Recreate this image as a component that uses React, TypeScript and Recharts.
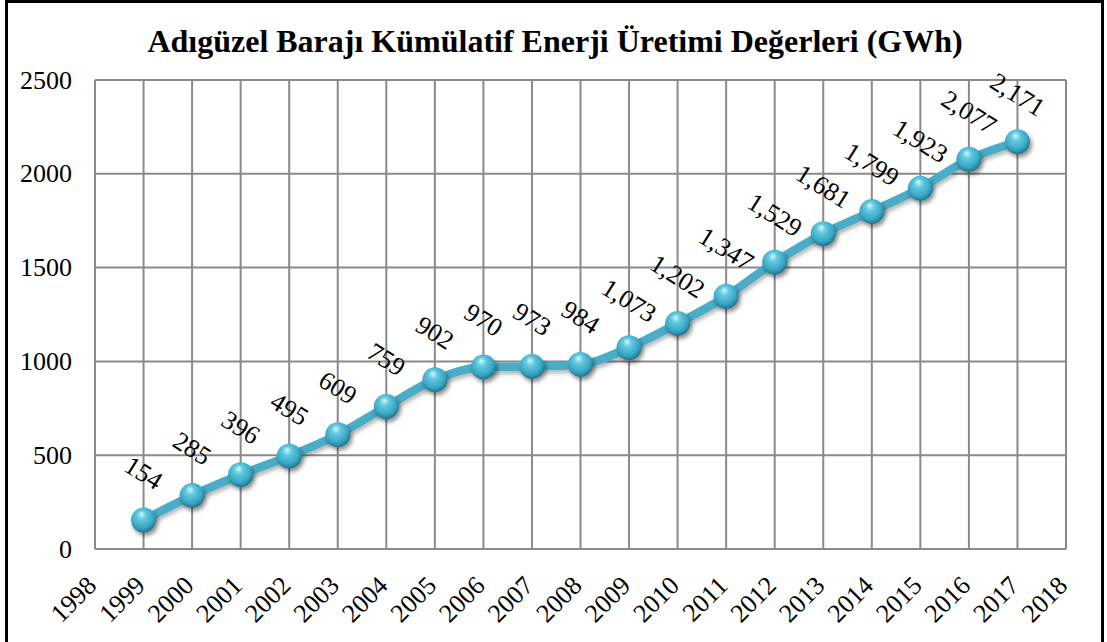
import React from 'react';
import { LineChart, Line, XAxis, YAxis, CartesianGrid, LabelList } from 'recharts';

const years = [1999, 2000, 2001, 2002, 2003, 2004, 2005, 2006, 2007, 2008, 2009, 2010, 2011, 2012, 2013, 2014, 2015, 2016, 2017];
const energy = [154, 285, 396, 495, 609, 759, 902, 970, 973, 984, 1073, 1202, 1347, 1529, 1681, 1799, 1923, 2077, 2171];
const xTicks = [1998, 1999, 2000, 2001, 2002, 2003, 2004, 2005, 2006, 2007, 2008, 2009, 2010, 2011, 2012, 2013, 2014, 2015, 2016, 2017, 2018];
const yTicks = [0, 500, 1000, 1500, 2000, 2500];
const title = 'Adıgüzel Barajı Kümülatif Enerji Üretimi Değerleri (GWh)';

const data = years.map((year, i) => ({ year, value: energy[i] }));

const FONT = '"Liberation Serif", "Times New Roman", Times, serif';
const GRID = '#8a8a8a';
const LINE = '#4BACC6';

const XTick = (props: any) => {
  const { x, y, payload } = props;
  const tx = x + 3;
  const ty = y + 30;
  return (
    <text x={tx} y={ty} transform={`rotate(-45, ${tx}, ${ty})`} textAnchor="end"
      fontFamily={FONT} fontSize={26} fill="#000">
      {payload.value}
    </text>
  );
};

const YTick = (props: any) => {
  const { y, payload } = props;
  return (
    <text x={72} y={y} textAnchor="end" dominantBaseline="central"
      fontFamily={FONT} fontSize={26} fill="#000">
      {payload.value}
    </text>
  );
};

const Sphere = (props: any) => {
  const { cx, cy, index } = props;
  if (cx == null || cy == null) return null;
  return (
    <circle key={`dot-${index}`} cx={cx} cy={cy} r={12.5} fill="url(#sphereGrad)" filter="url(#dotShadow)" />
  );
};

const ValueLabel = (props: any) => {
  const { x, y, value } = props;
  const ly = y - 47;
  return (
    <text x={x} y={ly} transform={`rotate(32, ${x}, ${ly})`} textAnchor="middle" dominantBaseline="central"
      fontFamily={FONT} fontSize={26} fill="#000">
      {Number(value).toLocaleString('en-US')}
    </text>
  );
};

export default function App() {
  return (
    <div style={{ position: 'relative', width: 1107, height: 642, background: '#fff', overflow: 'hidden' }}>
      <style>{`body{margin:0}`}</style>
      <svg width={0} height={0} style={{ position: 'absolute' }}>
        <defs>
          <radialGradient id="sphereGrad" cx="45%" cy="40%" r="60%" fx="42%" fy="25%">
            <stop offset="0%" stopColor="#d2f7fc" />
            <stop offset="30%" stopColor="#62c9e1" />
            <stop offset="75%" stopColor="#38a6c3" />
            <stop offset="100%" stopColor="#21738a" />
          </radialGradient>
          <filter id="dotShadow" x="-50%" y="-50%" width="200%" height="200%">
            <feDropShadow dx="2" dy="3" stdDeviation="2" floodColor="#000" floodOpacity="0.45" />
          </filter>
          <filter id="lineShadow" x="-5%" y="-5%" width="110%" height="120%">
            <feDropShadow dx="1" dy="3" stdDeviation="2" floodColor="#000" floodOpacity="0.3" />
          </filter>
        </defs>
      </svg>
      <LineChart width={1107} height={642} data={data} margin={{ top: 80, right: 41, bottom: 0, left: 0 }}>
        <CartesianGrid stroke={GRID} strokeWidth={2} horizontalValues={yTicks} verticalValues={xTicks} />
        <XAxis dataKey="year" type="number" domain={[1998, 2018]} ticks={xTicks} interval={0}
          axisLine={{ stroke: GRID, strokeWidth: 2 }} tickLine={false} tick={<XTick />} height={93} />
        <YAxis type="number" domain={[0, 2500]} ticks={yTicks} interval={0} width={95}
          axisLine={{ stroke: GRID, strokeWidth: 2 }} tickLine={false} tick={<YTick />} />
        <Line type="monotone" dataKey="value" stroke={LINE} strokeWidth={8.5} isAnimationActive={false}
          dot={<Sphere />} activeDot={false} style={{ filter: 'url(#lineShadow)' }}>
          <LabelList dataKey="value" content={<ValueLabel />} />
        </Line>
      </LineChart>
      <svg width={1107} height={642} style={{ position: 'absolute', left: 0, top: 0, pointerEvents: 'none' }}>
        <text x={555} y={52} textAnchor="middle" fontFamily={FONT} fontWeight="bold" fontSize={32} fill="#000">
          {title}
        </text>
      </svg>
      <div style={{ position: 'absolute', left: 5, top: 0, width: 1099, height: 660, border: '3px solid #000', boxSizing: 'border-box' }} />
    </div>
  );
}
